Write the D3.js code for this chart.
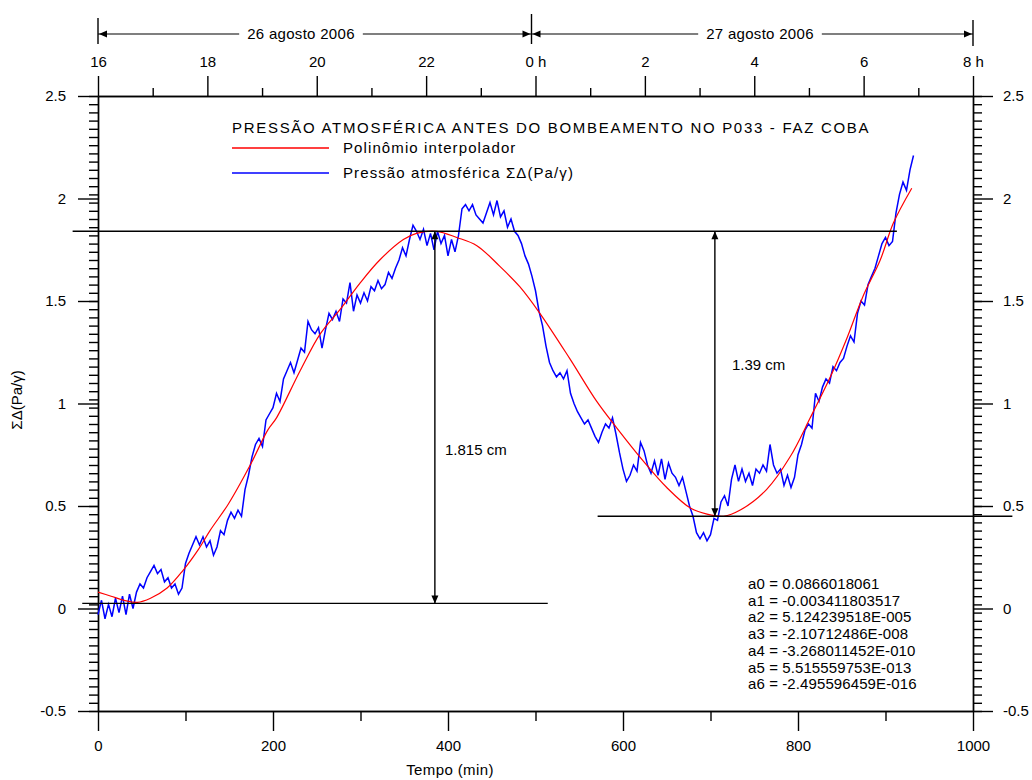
<!DOCTYPE html>
<html>
<head>
<meta charset="utf-8">
<script src="https://cdn.jsdelivr.net/npm/d3@7/dist/d3.min.js"></script>
<style>
  body { margin: 0; background: #fff; }
  svg text { font-family: "Liberation Sans", Arial, sans-serif; font-size: 15px; fill: #000; }
</style>
</head>
<body>
<div id="chart"></div>
<script>
// Observed pressure, one reading every 4 min starting at 0
const blueStep = 4;
const blueValues = [
  -0.03, 0.04, -0.05, 0.02, -0.04, 0.05, -0.02, 0.06, -0.03, 0.07,
  0.00, 0.08, 0.12, 0.10, 0.15, 0.18, 0.21, 0.17, 0.19, 0.13,
  0.15, 0.10, 0.12, 0.07, 0.10, 0.22, 0.27, 0.31, 0.35, 0.31,
  0.35, 0.30, 0.33, 0.26, 0.30, 0.38, 0.36, 0.43, 0.47, 0.44,
  0.48, 0.45, 0.58, 0.65, 0.74, 0.80, 0.83, 0.79, 0.92, 0.95,
  0.98, 1.05, 1.01, 1.12, 1.16, 1.20, 1.15, 1.21, 1.27, 1.25,
  1.40, 1.36, 1.34, 1.37, 1.27, 1.36, 1.44, 1.41, 1.45, 1.40,
  1.51, 1.49, 1.59, 1.45, 1.53, 1.49, 1.54, 1.50, 1.57, 1.55,
  1.60, 1.56, 1.58, 1.64, 1.61, 1.66, 1.70, 1.76, 1.72, 1.80,
  1.87, 1.84, 1.80, 1.85, 1.77, 1.83, 1.75, 1.84, 1.78, 1.82,
  1.72, 1.80, 1.74, 1.82, 1.95, 1.97, 1.94, 1.97, 1.92, 1.90,
  1.88, 1.93, 1.98, 1.92, 1.99, 1.91, 1.94, 1.86, 1.90, 1.84,
  1.82, 1.78, 1.72, 1.68, 1.62, 1.55, 1.45, 1.38, 1.28, 1.20,
  1.16, 1.13, 1.15, 1.12, 1.16, 1.05, 1.00, 0.96, 0.93, 0.90,
  0.92, 0.88, 0.84, 0.81, 0.86, 0.90, 0.88, 0.93, 0.85, 0.76,
  0.68, 0.62, 0.65, 0.70, 0.67, 0.81, 0.77, 0.70, 0.66, 0.72,
  0.65, 0.73, 0.63, 0.71, 0.66, 0.64, 0.60, 0.64, 0.57, 0.50,
  0.45, 0.37, 0.34, 0.37, 0.33, 0.36, 0.44, 0.43, 0.52, 0.55,
  0.50, 0.63, 0.70, 0.62, 0.68, 0.62, 0.66, 0.60, 0.68, 0.66,
  0.70, 0.67, 0.80, 0.70, 0.66, 0.68, 0.60, 0.65, 0.59, 0.64,
  0.75, 0.80, 0.87, 0.90, 0.88, 1.05, 1.01, 1.08, 1.12, 1.10,
  1.18, 1.16, 1.20, 1.22, 1.28, 1.33, 1.30, 1.44, 1.50, 1.48,
  1.58, 1.62, 1.66, 1.72, 1.78, 1.81, 1.77, 1.79, 1.93, 2.02,
  2.08, 2.04, 2.14, 2.21
];

// Interpolating polynomial
const redTimes = [0, 15, 30, 45, 60, 79, 97, 115, 128, 149, 174, 194, 204, 231, 254, 277, 299, 322, 349, 364,
  387, 410, 433, 459, 482, 505, 539, 570, 593, 623, 650, 677, 696, 715, 734, 764, 791, 814, 837, 856, 874, 894, 909, 930];
const redValues = [0.08, 0.06, 0.04, 0.03, 0.05, 0.10, 0.185, 0.29, 0.38, 0.51, 0.70, 0.87, 0.93, 1.16, 1.34, 1.46, 1.585, 1.70, 1.80, 1.83,
  1.84, 1.81, 1.77, 1.67, 1.57, 1.44, 1.22, 1.01, 0.88, 0.72, 0.59, 0.49, 0.46, 0.45, 0.48, 0.58, 0.74, 0.93, 1.13, 1.32, 1.52, 1.70, 1.88, 2.05];

const xTicks = [0, 200, 400, 600, 800, 1000];
const xMinorTicks = [100, 300, 500, 700, 900];
const yTicks = [-0.5, 0, 0.5, 1, 1.5, 2, 2.5];
const hourTicks = [16, 18, 20, 22, 24, 26, 28, 30, 32];
const hourLabels = ["16", "18", "20", "22", "0 h", "2", "4", "6", "8 h"];
const hourMinorTicks = [17, 19, 21, 23, 25, 27, 29, 31];
const dayLabels = ["26 agosto 2006", "27 agosto 2006"];

const coefLabels = [
  "a0 = 0.0866018061",
  "a1 = -0.003411803517",
  "a2 = 5.124239518E-005",
  "a3 = -2.10712486E-008",
  "a4 = -3.268011452E-010",
  "a5 = 5.515559753E-013",
  "a6 = -2.495596459E-016"
];

// reference levels (value, from min, to min) and the two measured gaps
const refLevels = [1.84, 0.45, 0.025];
const refFrom = [-29, 571, -18];
const refTo = [913, 1045, 514];
const gapTimes = [385, 705];
const gapTop = [1.84, 1.84];
const gapBottom = [0.025, 0.45];
const gapLabels = ["1.815 cm", "1.39 cm"];

const width = 1032, height = 780;
const margins = {top: 96, right: 59, bottom: 69, left: 98};

const svg = d3.select("#chart").append("svg")
  .attr("width", width)
  .attr("height", height);

const xScale = d3.scaleLinear().domain([0, 1000]).range([margins.left, width - margins.right]);
const yScale = d3.scaleLinear().domain([-0.5, 2.5]).range([height - margins.bottom, margins.top]);
const hScale = d3.scaleLinear().domain([16, 32]).range([margins.left, width - margins.right]);

const yMinor = d3.range(0, 76).map(i => +(-0.5 + i * 0.04).toFixed(2));

const styleAxis = g => {
  g.selectAll("line, path").attr("stroke", "#000").attr("stroke-width", 1.4);
  g.selectAll("text").attr("font-size", null).attr("font-family", null).attr("fill", "#000");
};

// bottom axis
svg.append("g")
  .attr("transform", `translate(0,${yScale(-0.5)})`)
  .call(d3.axisBottom(xScale).tickValues(xMinorTicks).tickSize(10).tickSizeOuter(0).tickFormat(""))
  .call(styleAxis);
svg.append("g")
  .attr("transform", `translate(0,${yScale(-0.5)})`)
  .call(d3.axisBottom(xScale).tickValues(xTicks).tickSize(20).tickPadding(9).tickSizeOuter(0).tickFormat(d => String(d)))
  .call(styleAxis);

// top axis (hours)
svg.append("g")
  .attr("transform", `translate(0,${yScale(2.5)})`)
  .call(d3.axisTop(hScale).tickValues(hourMinorTicks).tickSize(8).tickSizeOuter(0).tickFormat(""))
  .call(styleAxis);
svg.append("g")
  .attr("transform", `translate(0,${yScale(2.5)})`)
  .call(d3.axisTop(hScale).tickValues(hourTicks).tickSize(20).tickPadding(9).tickSizeOuter(0)
    .tickFormat((d, i) => hourLabels[i]))
  .call(styleAxis);

// left and right axes (plain hyphen for negatives, as in the original)
const yFormat = d => String(d);
svg.append("g")
  .attr("transform", `translate(${xScale(0)},0)`)
  .call(d3.axisLeft(yScale).tickValues(yMinor).tickSize(9).tickSizeOuter(0).tickFormat(""))
  .call(styleAxis);
svg.append("g")
  .attr("transform", `translate(${xScale(0)},0)`)
  .call(d3.axisLeft(yScale).tickValues(yTicks).tickSize(20).tickPadding(12).tickSizeOuter(0).tickFormat(yFormat))
  .call(styleAxis);
svg.append("g")
  .attr("transform", `translate(${xScale(1000)},0)`)
  .call(d3.axisRight(yScale).tickValues(yMinor).tickSize(9).tickSizeOuter(0).tickFormat(""))
  .call(styleAxis);
svg.append("g")
  .attr("transform", `translate(${xScale(1000)},0)`)
  .call(d3.axisRight(yScale).tickValues(yTicks).tickSize(20).tickPadding(10).tickSizeOuter(0).tickFormat(yFormat))
  .call(styleAxis);

// axis titles
svg.append("text")
  .attr("x", 450).attr("y", 775)
  .attr("text-anchor", "middle")
  .attr("letter-spacing", 0.4)
  .text("Tempo (min)");
svg.append("text")
  .attr("transform", "translate(22,400) rotate(-90)")
  .attr("text-anchor", "middle")
  .text("ΣΔ(Pa/γ)");

// small filled arrow head, tip at (x,y)
const arrowHead = (x, y, dir) => {
  const l = 8, w = 3.5;
  const pts = {
    up: [[x, y], [x - w, y + l], [x + w, y + l]],
    down: [[x, y], [x - w, y - l], [x + w, y - l]],
    left: [[x, y], [x + l, y - w], [x + l, y + w]],
    right: [[x, y], [x - l, y - w], [x - l, y + w]]
  }[dir];
  svg.append("path")
    .attr("d", "M" + pts.join("L") + "Z")
    .attr("fill", "#000");
};

// date brackets above the hour axis
const dateY = 34;
const bars = [[hScale(16), 18, 44], [hScale(24) - 4, 14, 44], [hScale(32), 20, 46]];
bars.forEach(b => {
  svg.append("line")
    .attr("x1", b[0]).attr("x2", b[0]).attr("y1", b[1]).attr("y2", b[2])
    .attr("stroke", "#000").attr("stroke-width", 1.4);
});
const dayCenters = [301, 760];
dayLabels.forEach((label, i) => {
  const t = svg.append("text")
    .attr("x", dayCenters[i]).attr("y", dateY + 5)
    .attr("text-anchor", "middle")
    .attr("letter-spacing", 0.3)
    .text(label);
  const half = t.node().getComputedTextLength() / 2 + 8;
  const left = bars[i][0], right = bars[i + 1][0];
  [[left, dayCenters[i] - half], [dayCenters[i] + half, right]].forEach(s => {
    svg.append("line")
      .attr("x1", s[0]).attr("x2", s[1]).attr("y1", dateY).attr("y2", dateY)
      .attr("stroke", "#000").attr("stroke-width", 1.2);
  });
  arrowHead(left + 1, dateY, "left");
  arrowHead(right - 1, dateY, "right");
});

// data lines
const blueData = blueValues.map((v, i) => ({t: i * blueStep, v}));
const redData = redTimes.map((t, i) => ({t, v: redValues[i]}));

const line = d3.line()
  .x(d => xScale(d.t))
  .y(d => yScale(d.v));

svg.append("path")
  .datum(blueData)
  .attr("d", line)
  .attr("fill", "none")
  .attr("stroke", "#0000ff")
  .attr("stroke-width", 1.5);

svg.append("path")
  .datum(redData)
  .attr("d", line.curve(d3.curveCatmullRom))
  .attr("fill", "none")
  .attr("stroke", "#ff0000")
  .attr("stroke-width", 1.2);

// reference levels
refLevels.forEach((v, i) => {
  svg.append("line")
    .attr("x1", xScale(refFrom[i])).attr("x2", xScale(refTo[i]))
    .attr("y1", yScale(v)).attr("y2", yScale(v))
    .attr("stroke", "#000").attr("stroke-width", 1.4);
});

// measured gaps
const gapLabelPos = [[445, 455], [732, 370]];
gapTimes.forEach((t, i) => {
  const x = xScale(t);
  svg.append("line")
    .attr("x1", x).attr("x2", x)
    .attr("y1", yScale(gapTop[i])).attr("y2", yScale(gapBottom[i]))
    .attr("stroke", "#000").attr("stroke-width", 1.4);
  arrowHead(x, yScale(gapTop[i]), "up");
  arrowHead(x, yScale(gapBottom[i]), "down");
  svg.append("text")
    .attr("x", gapLabelPos[i][0]).attr("y", gapLabelPos[i][1])
    .text(gapLabels[i]);
});

// title and legend
svg.append("text")
  .attr("x", 232).attr("y", 133)
  .attr("letter-spacing", 1.7)
  .text("PRESSÃO ATMOSFÉRICA ANTES DO BOMBEAMENTO NO P033 - FAZ COBA");

const legendItems = [
  {label: "Polinômio interpolador", color: "#ff0000", y: 148},
  {label: "Pressão atmosférica ΣΔ(Pa/γ)", color: "#0000ff", y: 173}
];
legendItems.forEach(d => {
  svg.append("line")
    .attr("x1", 232).attr("x2", 329)
    .attr("y1", d.y).attr("y2", d.y)
    .attr("stroke", d.color).attr("stroke-width", 1.4);
  svg.append("text")
    .attr("x", 343).attr("y", d.y + 5)
    .attr("letter-spacing", 1.1)
    .text(d.label);
});

// polynomial coefficients
svg.selectAll("text.coef")
  .data(coefLabels)
  .join("text")
    .attr("class", "coef")
    .attr("x", 748)
    .attr("y", (d, i) => 589 + i * 16.7)
    .attr("letter-spacing", 0.1)
    .text(d => d);
</script>
</body>
</html>
